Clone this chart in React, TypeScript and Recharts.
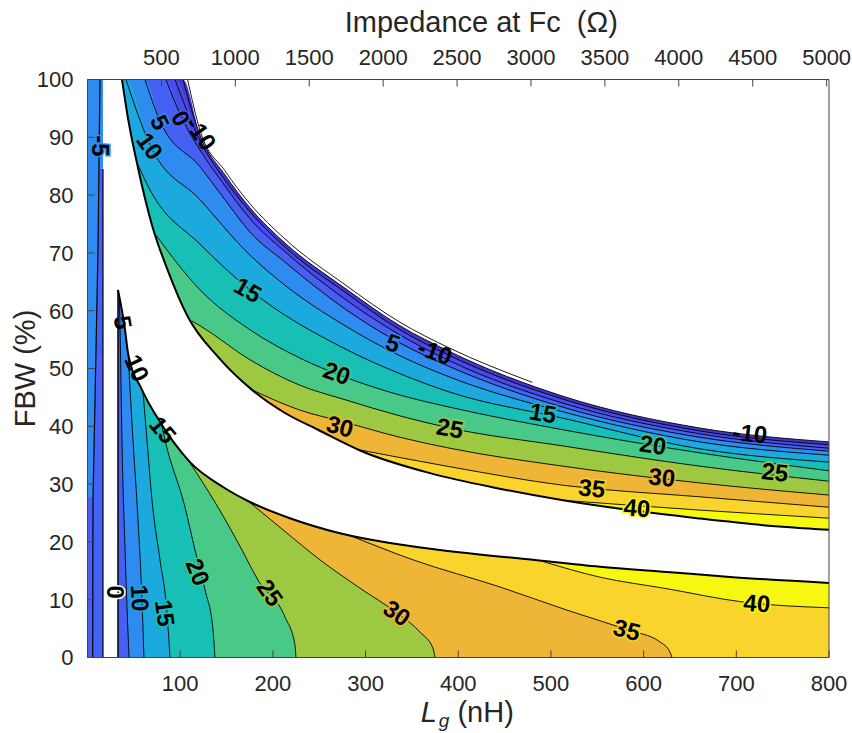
import React from "react";
import { ComposedChart, Area, Line, Scatter, XAxis, YAxis, Label } from "recharts";

const FONT = '"Liberation Sans", Arial, Helvetica, sans-serif';
const AXIS_COLOR = "#262626";

// ---------- axes ----------
const LG_TICKS = [100, 200, 300, 400, 500, 600, 700, 800];
const FBW_TICKS = [0, 10, 20, 30, 40, 50, 60, 70, 80, 90, 100];
const Z_TICKS = [500, 1000, 1500, 2000, 2500, 3000, 3500, 4000, 4500, 5000];
const LG_MAX = 800;
const FBW_MAX = 100;
const Z_MAX = 5016;

// ---------- contour levels / colours (parula) ----------
const BAND: Record<string, string> = {
  "-10": "#4335d0",
  "-5": "#474bea",
  "0": "#4660f4",
  "5": "#2e8bef",
  "10": "#1ca9de",
  "15": "#17bfb5",
  "20": "#48c987",
  "25": "#9dc842",
  "30": "#eeb536",
  "35": "#f9d42c",
  "40": "#f6f812",
};

// ---------- upper band contours [Lg (nH), FBW (%)] ----------
const UP_M10 = [[103.0, 100], [121.4, 90.4], [148.3, 83.5], [175.3, 77.8], [213.1, 71.7], [277.8, 63.9], [337.1, 57.4], [391.0, 52.9], [513.0, 45.2], [660.7, 39.7], [800, 37.3]];
const UP_M10_OUTER = [[108.0, 100], [121.4, 91.2], [148.3, 84.2], [175.3, 78.5], [213.1, 72.4], [277.8, 64.5], [337.1, 58.0], [391.0, 53.5], [480.0, 47.6]];
const UP_M5 = [[94.4, 100], [121.4, 89.4], [148.3, 82.6], [175.3, 77.1], [213.1, 71.0], [277.8, 63.2], [337.1, 56.7], [391.0, 52.2], [513.0, 44.7], [660.7, 39.2], [800, 36.8]];
const UP_0 = [[84.7, 100], [101.9, 93.3], [121.4, 87.8], [148.3, 81.6], [175.3, 75.9], [213.1, 70.2], [277.8, 62.0], [337.1, 55.8], [391.0, 51.3], [513.0, 44.0], [660.7, 38.7], [800, 36.2]];
const UP_5 = [[62.0, 100], [78.2, 92.8], [121.4, 84.9], [148.3, 79.2], [175.3, 73.6], [213.1, 68.4], [277.8, 60.3], [337.1, 54.4], [391.0, 50.3], [513.0, 43.3], [660.7, 38.1], [800, 35.7]];
const UP_10 = [[41.5, 100], [67.4, 88.7], [121.4, 79.2], [175.3, 69.6], [213.1, 64.4], [277.8, 57.4], [337.1, 52.2], [391.0, 48.5], [513.0, 42.5], [660.7, 37.3], [800, 35.0]];
const UP_15 = [[53.4, 85.6], [67.4, 80.9], [121.4, 71.5], [175.3, 63.6], [277.8, 53.4], [337.1, 49.1], [391.0, 45.9], [513.0, 41.4], [660.7, 36.1], [800, 33.8]];
const UP_20 = [[72.8, 73.3], [121.4, 63.6], [175.3, 56.7], [229.2, 51.8], [277.8, 48.5], [337.1, 45.4], [391.0, 43.3], [513.0, 39.4], [660.7, 35.4], [800, 32.3]];
const UP_25 = [[112.7, 58.2], [121.4, 57.4], [175.3, 51.5], [229.2, 47.1], [277.8, 44.6], [337.1, 41.8], [391.0, 39.7], [513.0, 36.6], [660.7, 33.1], [800, 30.5]];
const UP_30 = [[177.5, 46.3], [229.2, 42.8], [277.8, 40.7], [337.1, 38.1], [391.0, 36.2], [513.0, 33.1], [660.7, 30.2], [800, 28.1]];
const UP_35 = [[291.0, 36.0], [391.0, 33.0], [513.0, 29.8], [660.7, 27.8], [800, 26.0]];
const UP_40 = [[513.0, 27.2], [660.7, 25.5], [800, 24.1]];

// boundaries of the white (undefined) gap
const GAP_TOP = [[37.2, 100], [43.7, 93.3], [54.5, 84.7], [69.6, 74.8], [86.8, 66.9], [108.4, 58.9], [140.8, 52.0], [177.5, 46.3], [213.1, 42.3], [248.7, 39.4], [297.2, 35.6], [369.5, 31.9], [441.8, 29.3], [513.0, 27.2], [585.2, 25.5], [657.4, 24.1], [728.7, 22.9], [800, 22.1]];
const GAP_BOTTOM = [[32.9, 63.6], [40.5, 56.7], [43.7, 52.7], [58.8, 46.3], [75.0, 41.6], [110.6, 33.8], [146.2, 29.5], [175.3, 26.9], [218.4, 24.1], [272.4, 21.5], [326.3, 19.8], [380.3, 18.6], [480.6, 16.9], [552.9, 15.7], [625.2, 14.8], [696.4, 13.9], [800, 12.9]];
const LOWER_EDGE = [[32.9, 0], [32.9, 63.6]];

// ---------- lower region contours ----------
const LO_5 = [[34.5, 62.1], [36.1, 48.0], [37.2, 37.6], [40.5, 18.6], [44.8, 0]];
const LO_10 = [[43.7, 52.9], [49.1, 37.6], [54.5, 23.8], [58.8, 9.9], [60.9, 0]];
const LO_15 = [[59.9, 45.9], [64.2, 37.6], [69.6, 27.2], [78.2, 16.9], [85.8, 7.7], [89.0, 0]];
const LO_20 = [[79.3, 40.7], [83.6, 37.6], [105.2, 26.0], [116.0, 18.6], [126.8, 11.7], [135.4, 4.8], [137.5, 0]];
const LO_25 = [[106.3, 34.7], [140.8, 26.0], [166.7, 18.6], [183.9, 13.4], [213.1, 7.0], [223.8, 2.2], [224.9, 0]];
const LO_30 = [[175.3, 26.8], [213.1, 21.8], [250.8, 16.9], [293.9, 12.0], [333.9, 7.7], [358.7, 4.4], [372.7, 1.6], [374.9, 0]];
const LO_35 = [[280.0, 21.3], [351.2, 16.9], [445.0, 12.2], [517.3, 8.2], [582.0, 4.8], [617.6, 2.7], [628.4, 0.95], [630.6, 0]];
const LO_40 = [[491.4, 16.6], [552.9, 13.9], [625.2, 11.9], [707.2, 9.6], [800, 8.6]];

// ---------- narrow strip at the left ----------
const STRIP = [[0, 100], [16.7, 100]];
const STRIP_LINE = [[5.6, 0], [5.9, 27.2], [8.1, 44.6], [11.3, 70.5], [13.5, 100]];
const STRIP_DARK = [[5.6, 0], [5.9, 27.2], [8.1, 44.6], [11.3, 70.5], [12.4, 84.5], [16.7, 84.5]];
const STRIP_LOW = [[0, 27.7], [5.9, 27.7]];
const STRIP_EDGE = [[16.7, 0], [16.7, 84.5]];

// ---------- contour labels ----------
const LABELS = [
  { x: 78.2, y: 92.6, level: 5 },
  { x: 100.9, y: 93.3, level: 0 },
  { x: 122.4, y: 90.7, level: -10 },
  { x: 67.4, y: 88.5, level: 10 },
  { x: 13.5, y: 88.5, level: -5 },
  { x: 173.1, y: 63.6, level: 15 },
  { x: 329.6, y: 54.4, level: 5 },
  { x: 374.9, y: 52.9, level: -10 },
  { x: 269.1, y: 49.2, level: 20 },
  { x: 272.4, y: 40.0, level: 30 },
  { x: 391.0, y: 39.7, level: 25 },
  { x: 491.4, y: 42.3, level: 15 },
  { x: 610.0, y: 36.8, level: 20 },
  { x: 714.7, y: 38.8, level: -10 },
  { x: 741.6, y: 32.1, level: 25 },
  { x: 619.8, y: 31.2, level: 30 },
  { x: 544.2, y: 29.3, level: 35 },
  { x: 592.8, y: 25.9, level: 40 },
  { x: 38.3, y: 58.0, level: 5 },
  { x: 53.4, y: 50.1, level: 10 },
  { x: 81.4, y: 39.4, level: 15 },
  { x: 29.7, y: 11.3, level: 0 },
  { x: 56.6, y: 10.3, level: 10 },
  { x: 83.6, y: 7.7, level: 15 },
  { x: 119.2, y: 14.8, level: 20 },
  { x: 196.9, y: 11.2, level: 25 },
  { x: 333.9, y: 7.7, level: 30 },
  { x: 582.0, y: 4.8, level: 35 },
  { x: 722.2, y: 9.4, level: 40 },
];
const LABEL_ANGLES = [65, 60, 55, 55, 90, 30, 18, 20, 20, 15, 10, 10, 8, 6, 6, 6, 6, 5, 80, 65, 50, 90, 87, 82, 68, 55, 35, 15, 5];
const LABEL_HALOS = ["5", "0", "", "10", "5", "15", "5", "", "20", "30", "25", "15", "20", "", "25", "30", "35", "40", "", "", "", "W", "10", "15", "20", "25", "30", "35", "40"];

// ---------- helpers ----------
const toPts = (a: number[][]) => a.map(([x, y]) => ({ x, y }));
const fromTop = (a: number[][]) => [[GAP_TOP[0][0], FBW_MAX], ...a];
const lowerFill = (c: number[][]) => [...GAP_BOTTOM.filter((p) => p[0] < c[0][0]), ...c];

const UPPER_FILLS = [
  { key: "-10", d: fromTop(UP_M10) },
  { key: "-5", d: fromTop(UP_M5) },
  { key: "0", d: fromTop(UP_0) },
  { key: "5", d: fromTop(UP_5) },
  { key: "10", d: fromTop(UP_10) },
  { key: "15", d: UP_15 },
  { key: "20", d: UP_20 },
  { key: "25", d: UP_25 },
  { key: "30", d: UP_30 },
  { key: "35", d: UP_35 },
  { key: "40", d: UP_40 },
];
const LOWER_FILLS = [
  { key: "40", d: GAP_BOTTOM },
  { key: "35", d: lowerFill(LO_40) },
  { key: "30", d: lowerFill(LO_35) },
  { key: "25", d: lowerFill(LO_30) },
  { key: "20", d: lowerFill(LO_25) },
  { key: "15", d: lowerFill(LO_20) },
  { key: "10", d: lowerFill(LO_15) },
  { key: "5", d: lowerFill(LO_10) },
  { key: "0", d: lowerFill(LO_5) },
];
const STRIP_FILLS = [
  { key: "5", d: STRIP },
  { key: "0", d: STRIP_DARK },
  { key: "0", d: STRIP_LOW },
];
const THIN_LINES = [UP_M10, UP_M10_OUTER, UP_M5, UP_0, UP_5, UP_10, UP_15, UP_20, UP_25, UP_30, UP_35, UP_40, LO_5, LO_10, LO_15, LO_20, LO_25, LO_30, LO_35, LO_40];

// invisible series spanning the secondary axes so that they get their scales
const AXIS_SPAN = [{ x: 0, y: 0 }, { x: Z_MAX, y: FBW_MAX }];

const LABEL_DATA = LABELS.map((l, i) => ({ ...l, text: String(l.level), angle: LABEL_ANGLES[i], halo: LABEL_HALOS[i] }));

const renderContourLabel = (props: any) => {
  const { cx, cy, payload } = props;
  const h = payload.halo;
  const haloColor = h === "W" ? "#ffffff" : h ? BAND[h] : "none";
  return (
    <text
      x={cx}
      y={cy}
      transform={`rotate(${payload.angle} ${cx} ${cy})`}
      textAnchor="middle"
      dominantBaseline="central"
      fontFamily={FONT}
      fontWeight="bold"
      fontSize={24}
      fill="#000"
      stroke={haloColor}
      strokeWidth={h ? 3 : 0}
      paintOrder="stroke"
    >
      {payload.text}
    </text>
  );
};

const TopTitle = (props: any) => {
  const vb = props.viewBox;
  return (
    <text x={vb.x + vb.width / 2 + 23} y={vb.y + 31.5} textAnchor="middle" fontSize={29} fill={AXIS_COLOR} fontFamily={FONT} style={{ whiteSpace: "pre" }}>
      {"Impedance at Fc  (\u03A9)"}
    </text>
  );
};
const LeftTitle = (props: any) => {
  const vb = props.viewBox;
  const cx = vb.x + 35;
  const cy = vb.y + vb.height / 2;
  return (
    <text x={cx} y={cy} transform={`rotate(-90 ${cx} ${cy})`} textAnchor="middle" fontSize={29} fill={AXIS_COLOR} fontFamily={FONT}>
      FBW (%)
    </text>
  );
};
const BottomTitle = (props: any) => {
  const vb = props.viewBox;
  return (
    <text x={vb.x + vb.width / 2 + 9} y={vb.y + 64} textAnchor="middle" fontSize={29} fill={AXIS_COLOR} fontFamily={FONT} style={{ whiteSpace: "pre" }}>
      <tspan fontStyle="italic">L</tspan>
      <tspan fontStyle="italic" fontSize={19} dx={2} dy={5}>g</tspan>
      <tspan dy={-5}>{" (nH)"}</tspan>
    </text>
  );
};

const tickStyle = { fontSize: 22, fill: AXIS_COLOR, fontFamily: FONT };
const axisLine = { stroke: "#444", strokeWidth: 1 };

export default function App() {
  return (
    <div style={{ position: "fixed", left: 0, top: 0, width: 852, height: 733, background: "#fff" }}>
      <ComposedChart width={852} height={733} margin={{ top: 0, right: 0, bottom: 0, left: 0 }}>
        {UPPER_FILLS.map((f) => (
          <Area key={"u" + f.key} xAxisId="lg" yAxisId="fbw" data={toPts(f.d)} dataKey="y" type="monotone" baseValue={0}
            stroke="none" fill={BAND[f.key]} fillOpacity={1} dot={false} activeDot={false} isAnimationActive={false} />
        ))}
        <Area key="gap" xAxisId="lg" yAxisId="fbw" data={toPts(GAP_TOP)} dataKey="y" type="monotone" baseValue={0}
          stroke="none" fill="#ffffff" fillOpacity={1} dot={false} activeDot={false} isAnimationActive={false} />
        {LOWER_FILLS.map((f) => (
          <Area key={"l" + f.key} xAxisId="lg" yAxisId="fbw" data={toPts(f.d)} dataKey="y" type="monotone" baseValue={0}
            stroke="none" fill={BAND[f.key]} fillOpacity={1} dot={false} activeDot={false} isAnimationActive={false} />
        ))}
        {STRIP_FILLS.map((f, i) => (
          <Area key={"s" + i} xAxisId="lg" yAxisId="fbw" data={toPts(f.d)} dataKey="y" type="linear" baseValue={0}
            stroke="none" fill={BAND[f.key]} fillOpacity={1} dot={false} activeDot={false} isAnimationActive={false} />
        ))}

        {THIN_LINES.map((d, i) => (
          <Line key={"c" + i} xAxisId="lg" yAxisId="fbw" data={toPts(d)} dataKey="y" type="monotone"
            stroke="#000" strokeWidth={0.9} dot={false} activeDot={false} isAnimationActive={false} />
        ))}
        <Line key="gapTop" xAxisId="lg" yAxisId="fbw" data={toPts(GAP_TOP)} dataKey="y" type="monotone"
          stroke="#000" strokeWidth={2} dot={false} activeDot={false} isAnimationActive={false} />
        <Line key="gapBottom" xAxisId="lg" yAxisId="fbw" data={toPts(GAP_BOTTOM)} dataKey="y" type="monotone"
          stroke="#000" strokeWidth={2} dot={false} activeDot={false} isAnimationActive={false} />
        <Line key="lowEdge" xAxisId="lg" yAxisId="fbw" data={toPts(LOWER_EDGE)} dataKey="y" type="linear"
          stroke="#000" strokeWidth={1.5} dot={false} activeDot={false} isAnimationActive={false} />
        <Line key="stripLine" xAxisId="lg" yAxisId="fbw" data={toPts(STRIP_LINE)} dataKey="y" type="linear"
          stroke="#000" strokeWidth={1.2} dot={false} activeDot={false} isAnimationActive={false} />
        <Line key="stripEdge" xAxisId="lg" yAxisId="fbw" data={toPts(STRIP_EDGE)} dataKey="y" type="linear"
          stroke="#000" strokeWidth={1.2} dot={false} activeDot={false} isAnimationActive={false} />
        <Line key="span" xAxisId="z" yAxisId="fbwR" data={AXIS_SPAN} dataKey="y" type="linear"
          stroke="none" dot={false} activeDot={false} isAnimationActive={false} />

        <Scatter key="labels" xAxisId="lg" yAxisId="fbw" data={LABEL_DATA} dataKey="y" shape={renderContourLabel} isAnimationActive={false} />

        <XAxis xAxisId="lg" dataKey="x" type="number" orientation="bottom" domain={[0, LG_MAX]} ticks={LG_TICKS} interval={0}
          allowDataOverflow height={75.5} tickSize={-7} tickMargin={25} tick={tickStyle} axisLine={axisLine} tickLine={axisLine}>
          <Label content={BottomTitle} />
        </XAxis>
        <XAxis xAxisId="z" dataKey="x" type="number" orientation="top" domain={[0, Z_MAX]} ticks={Z_TICKS} interval={0}
          allowDataOverflow height={79.5} tickSize={-7} tickMargin={21.5} tick={tickStyle} axisLine={axisLine} tickLine={axisLine}>
          <Label content={TopTitle} />
        </XAxis>
        <YAxis yAxisId="fbw" dataKey="y" type="number" orientation="left" domain={[0, FBW_MAX]} ticks={FBW_TICKS} interval={0}
          allowDataOverflow width={87.5} tickSize={-7} tickMargin={21} tick={tickStyle} axisLine={axisLine} tickLine={axisLine}>
          <Label content={LeftTitle} />
        </YAxis>
        <YAxis yAxisId="fbwR" dataKey="y" type="number" orientation="right" domain={[0, FBW_MAX]} ticks={FBW_TICKS} interval={0}
          allowDataOverflow width={23} tickSize={-7} tick={false} axisLine={axisLine} tickLine={axisLine} />
      </ComposedChart>
    </div>
  );
}
